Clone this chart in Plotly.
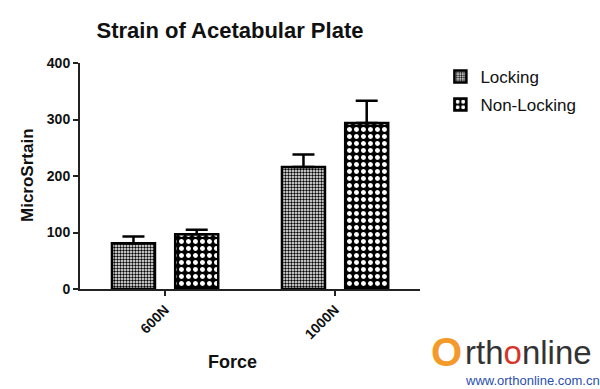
import plotly.graph_objects as go

categories = ["600N", "1000N"]
locking = [81, 216]
locking_err = [12, 22]
nonlocking = [97, 294]
nonlocking_err = [8, 39]
yticks = [0, 100, 200, 300, 400]

FONT = "Liberation Sans, Arial, sans-serif"

fig = go.Figure()
fig.add_trace(go.Bar(
    name="Locking", x=categories, y=locking, legendgroup="a",
    width=0.253, offset=-0.312,
    marker=dict(color="white",
                line=dict(color="black", width=2.5),
                pattern=dict(shape=".", fgcolor="black", bgcolor="white",
                             size=3, solidity=0.5, fillmode="replace")),
    error_y=dict(type="data", symmetric=False, array=locking_err,
                 arrayminus=[0, 0], color="black", thickness=2.5, width=11),
))
fig.add_trace(go.Bar(
    name="Non-Locking", x=categories, y=nonlocking, legendgroup="b",
    width=0.253, offset=0.06,
    marker=dict(color="black",
                line=dict(color="black", width=2.5),
                pattern=dict(shape=".", fgcolor="white", bgcolor="black",
                             size=7, solidity=0.4, fillmode="replace")),
    error_y=dict(type="data", symmetric=False, array=nonlocking_err,
                 arrayminus=[0, 0], color="black", thickness=2.5, width=11),
))

def px_to_paper(px, py):
    return (px - 80) / 340, (289 - py) / 226

annotations = []
ax, ay = px_to_paper(27, 175)
annotations.append(dict(x=ax, y=ay, xref="paper", yref="paper", text="MicroSrtain",
                        textangle=-90, showarrow=False, xanchor="center", yanchor="middle",
                        font=dict(family=FONT, size=17, color="#111", weight="bold")))
ax, ay = px_to_paper(232, 362)
annotations.append(dict(x=ax, y=ay, xref="paper", yref="paper", text="Force",
                        showarrow=False, xanchor="center", yanchor="middle",
                        font=dict(family=FONT, size=18, color="#111", weight="bold")))
# watermark logo
ax, ay = px_to_paper(446, 352)
annotations.append(dict(x=ax, y=ay, xref="paper", yref="paper", text="O",
                        showarrow=False, xanchor="center", yanchor="middle",
                        font=dict(family=FONT, size=40, color="#f39a2b", weight="bold")))
ax, ay = px_to_paper(528, 352)
annotations.append(dict(x=ax, y=ay, xref="paper", yref="paper",
                        text="rth<span style='color:#d8352a'>o</span>nline",
                        showarrow=False, xanchor="center", yanchor="middle",
                        font=dict(family=FONT, size=33, color="#333")))
ax, ay = px_to_paper(532, 380)
annotations.append(dict(x=ax, y=ay, xref="paper", yref="paper",
                        text="www.orthonline.com.cn", showarrow=False,
                        xanchor="center", yanchor="middle",
                        font=dict(family=FONT, size=13, color="#2a4fb0")))

fig.update_layout(
    width=600, height=389,
    margin=dict(l=80, r=180, t=63, b=100),
    paper_bgcolor="white", plot_bgcolor="white",
    barmode="group",
    showlegend=True,
    title=dict(text="Strain of Acetabular Plate", xref="container", yref="container",
               x=230 / 600, y=1 - 30 / 389, xanchor="center", yanchor="middle",
               font=dict(family=FONT, size=22, color="#111", weight="bold")),
    legend=dict(x=1.06, y=1.018, xanchor="left", yanchor="top",
                font=dict(family=FONT, size=17, color="#111"),
                bgcolor="rgba(0,0,0,0)", tracegroupgap=3),
    xaxis=dict(range=[-0.5, 1.5], showline=True, linecolor="#222", linewidth=2,
               ticks="outside", ticklen=5, tickwidth=2, tickcolor="#222",
               tickangle=-45, showgrid=False, zeroline=False,
               tickfont=dict(family=FONT, size=14, color="#111", weight="bold")),
    yaxis=dict(range=[0, 400], tickvals=yticks, showline=True, linecolor="#222",
               linewidth=2, ticks="outside", ticklen=5, tickwidth=2, tickcolor="#222",
               showgrid=False, zeroline=False,
               tickfont=dict(family=FONT, size=14, color="#111", weight="bold")),
    annotations=annotations,
)

fig.write_html("out.html", config={"displayModeBar": False},
               post_script="document.body.style.margin='0';")
